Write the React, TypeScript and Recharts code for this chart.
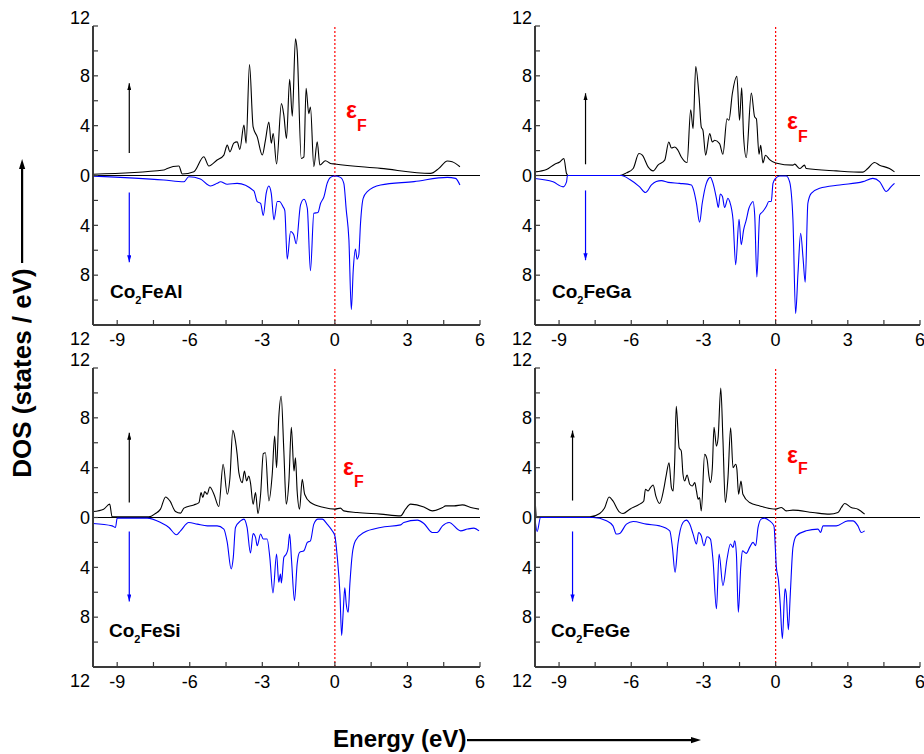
import { LineChart, Line, XAxis, YAxis, ReferenceLine } from "recharts"

// DOS curves as [energy (eV), states/eV]; spin-down values stored as magnitudes
const alUp = [[-10,0.1],[-7.07,0.44],[-6.93,0.57],[-6.45,0.76],[-6.31,0.12],[-5.83,0.3],[-5.42,1.5],[-5.21,0.76],[-4.87,1.24],[-4.59,1.64],[-4.45,2.44],[-4.34,1.9],[-4.18,2.6],[-4.04,2.7],[-3.93,2.1],[-3.76,4.04],[-3.67,2.6],[-3.53,8.9],[-3.38,3.9],[-3.21,3.1],[-3.0,1.64],[-2.87,2.84],[-2.73,4.3],[-2.63,2.6],[-2.55,3.37],[-2.41,0.92],[-2.21,5.77],[-2.11,4.84],[-2.0,2.97],[-1.87,7.72],[-1.76,4.76],[-1.63,10.97],[-1.56,10.04],[-1.39,1.37],[-1.28,1.5],[-1.19,7.0],[-1.08,4.97],[-1.01,5.5],[-0.87,0.71],[-0.73,2.7],[-0.62,0.84],[-0.39,1.19],[-0.18,0.97],[0,0.92],[1.89,0.57],[3.96,0.17],[4.3,0.57],[4.65,1.16],[4.85,1.1],[5.17,0.7]]
const alDown = [[-10,0.05],[-7.07,0.36],[-6.24,0.5],[-6.04,0.1],[-5.56,0.28],[-5.14,0.84],[-4.87,0.63],[-4.73,0.5],[-4.45,0.7],[-4.04,0.63],[-3.35,1.24],[-3.21,2.09],[-3.07,2.23],[-2.96,3.21],[-2.84,1.43],[-2.73,0.84],[-2.63,1.43],[-2.52,3.56],[-2.38,2.09],[-2.29,2.09],[-2.15,2.49],[-2.07,2.81],[-1.97,6.71],[-1.83,4.49],[-1.7,4.76],[-1.6,5.48],[-1.42,2.36],[-1.28,1.91],[-1.14,2.63],[-1.01,7.64],[-0.87,3.03],[-0.7,2.97],[-0.59,2.23],[-0.45,1.69],[-0.32,0.63],[-0.18,0.15],[0,0.04],[0.23,0.15],[0.37,0.63],[0.47,2.76],[0.58,5.16],[0.68,10.76],[0.76,7.56],[0.85,5.91],[0.92,6.71],[0.99,6.36],[1.06,3.83],[1.17,1.83],[1.34,1.29],[1.89,0.76],[3.27,0.49],[4.65,0.15],[4.99,0.23],[5.17,0.76]]

const gaUp = [[-10,0.29],[-9.52,0.48],[-9.18,0.91],[-8.97,1.09],[-8.8,1.36],[-8.69,0.16],[-8.62,0],[-6.48,0],[-6.2,0.21],[-5.92,0.56],[-5.68,1.76],[-5.54,1.63],[-5.3,0.69],[-5.09,0.37],[-4.89,0.83],[-4.61,1.23],[-4.44,2.69],[-4.33,2.21],[-4.19,2.29],[-4.06,2.03],[-3.92,1.49],[-3.68,1.04],[-3.53,5.28],[-3.43,3.76],[-3.32,8.75],[-3.18,6.29],[-3.09,3.89],[-3.02,3.63],[-2.91,1.63],[-2.74,3.36],[-2.63,2.69],[-2.53,2.83],[-2.33,2.56],[-2.19,1.71],[-2.02,4.56],[-1.94,4.43],[-1.8,6.56],[-1.61,7.97],[-1.5,4.43],[-1.41,7.04],[-1.33,3.09],[-1.22,1.44],[-1.01,6.61],[-0.87,4.69],[-0.8,4.56],[-0.69,1.71],[-0.62,2.43],[-0.53,1.01],[-0.42,1.63],[-0.25,1.28],[0,1.01],[0.72,0.83],[0.79,0.91],[1.0,0.56],[1.2,0.83],[1.27,0.56],[2.52,0.37],[3.63,0.27],[3.83,0.56],[4.11,1.04],[4.32,0.83],[4.73,0.56],[4.94,0.29]]
const gaDown = [[-10,0.24],[-9.25,0.51],[-8.83,0.91],[-8.69,0.51],[-8.65,0],[-6.41,0],[-6.06,0.32],[-5.65,0.91],[-5.41,1.37],[-5.16,0.76],[-4.96,0.49],[-4.75,0.41],[-4.47,0.55],[-3.99,0.63],[-3.5,0.76],[-3.41,1.16],[-3.29,2.23],[-3.16,3.75],[-3.05,2.23],[-2.88,0.63],[-2.71,0.15],[-2.6,0.63],[-2.46,1.83],[-2.38,2.57],[-2.3,1.48],[-2.21,1.69],[-2.12,2.57],[-1.98,1.83],[-1.91,2.09],[-1.77,3.56],[-1.66,7.16],[-1.52,3.51],[-1.43,5.56],[-1.33,4.36],[-1.22,3.56],[-1.11,2.63],[-1.01,2.23],[-0.94,2.09],[-0.87,3.16],[-0.78,8.15],[-0.66,3.16],[-0.53,2.89],[-0.39,2.49],[-0.28,2.09],[-0.18,2.09],[-0.11,0.63],[0,0.23],[0.17,0.04],[0.44,0.04],[0.58,0.49],[0.72,3.56],[0.83,11.08],[0.93,7.83],[1.04,4.63],[1.14,6.63],[1.23,8.57],[1.34,2.23],[1.48,1.43],[1.83,1.03],[2.66,0.76],[3.63,0.49],[4.04,0.23],[4.32,0.49],[4.6,1.29],[4.8,0.89],[4.94,0.63]]

const siUp = [[-10,0.48],[-9.56,0.67],[-9.31,1.07],[-9.21,0.05],[-7.69,0.05],[-7.42,0.32],[-7.21,0.67],[-7.0,1.65],[-6.82,1.33],[-6.59,0.48],[-6.38,0.35],[-6.24,0.75],[-5.83,1.01],[-5.62,1.2],[-5.53,2.0],[-5.46,1.6],[-5.38,2.08],[-5.28,1.87],[-5.17,2.45],[-5.0,1.87],[-4.8,0.88],[-4.62,4.27],[-4.45,1.87],[-4.34,3.15],[-4.22,6.99],[-4.11,6.13],[-4.04,5.07],[-3.97,3.6],[-3.83,2.8],[-3.74,3.73],[-3.65,2.93],[-3.56,3.33],[-3.49,2.8],[-3.38,1.07],[-3.28,2.0],[-3.18,0.32],[-3.07,1.87],[-2.96,5.12],[-2.87,5.2],[-2.73,1.33],[-2.59,3.47],[-2.49,6.53],[-2.41,4.0],[-2.32,8.0],[-2.22,9.73],[-2.11,5.33],[-2.01,1.07],[-1.9,2.93],[-1.8,7.25],[-1.69,3.73],[-1.63,4.8],[-1.56,2.13],[-1.46,0.67],[-1.35,3.07],[-1.25,1.87],[-1.01,1.2],[-0.45,0.8],[0,0.67],[0.23,0.75],[0.37,0.53],[0.92,0.4],[1.89,0.27],[2.72,0.13],[2.92,0.67],[3.13,1.07],[3.68,0.85],[4.03,0.53],[4.45,0.8],[4.58,0.93],[4.93,0.93],[5.27,1.01],[5.62,0.8],[5.96,0.67]]
const siDown = [[-10,0.48],[-9.21,0.67],[-9.07,0.8],[-9.0,0.05],[-7.76,0.05],[-7.21,0.4],[-6.86,0.8],[-6.55,1.39],[-6.38,1.07],[-6.04,0.4],[-5.69,0.53],[-5.27,0.67],[-4.87,0.67],[-4.59,0.93],[-4.45,2.0],[-4.29,4.13],[-4.2,3.2],[-4.11,0.8],[-3.9,0.27],[-3.76,0.13],[-3.63,0.8],[-3.49,2.85],[-3.38,1.28],[-3.28,1.6],[-3.21,2.27],[-3.07,1.33],[-2.96,1.73],[-2.8,1.73],[-2.69,3.2],[-2.56,6.05],[-2.41,2.93],[-2.32,5.2],[-2.25,4.53],[-2.21,5.25],[-2.11,3.2],[-2.01,2.93],[-1.94,2.53],[-1.87,1.33],[-1.79,3.47],[-1.67,6.67],[-1.56,3.73],[-1.46,2.8],[-1.28,2.67],[-1.14,2.0],[-1.01,1.87],[-0.87,0.53],[-0.7,0.13],[-0.52,0.13],[-0.32,0.53],[-0.11,1.07],[0,1.47],[0.1,3.2],[0.21,6.13],[0.28,9.47],[0.34,7.73],[0.41,5.65],[0.47,6.93],[0.55,7.6],[0.62,5.33],[0.72,2.93],[0.85,1.87],[1.2,1.2],[1.89,0.8],[2.72,0.59],[2.85,0.4],[3.41,0.21],[3.68,0.48],[4.03,1.2],[4.23,1.2],[4.45,0.67],[4.72,0.4],[5.2,1.07],[5.48,0.93],[5.75,0.85],[5.96,1.07]]

const geUp = [[-10,1.6],[-9.93,0.05],[-7.72,0.05],[-7.31,0.32],[-7.1,0.8],[-6.92,1.65],[-6.76,1.33],[-6.51,0.48],[-6.34,0.32],[-6.06,0.67],[-5.65,1.07],[-5.48,1.33],[-5.41,2.27],[-5.3,2.13],[-5.2,2.4],[-5.09,2.61],[-4.98,1.73],[-4.82,1.12],[-4.65,2.27],[-4.54,3.47],[-4.43,4.4],[-4.33,2.4],[-4.26,2.13],[-4.19,4.8],[-4.13,8.93],[-4.01,5.6],[-3.92,5.33],[-3.85,3.47],[-3.78,2.93],[-3.68,3.41],[-3.57,2.67],[-3.46,2.53],[-3.36,2.8],[-3.29,2.13],[-3.22,1.47],[-3.16,1.6],[-3.09,0.53],[-2.95,5.07],[-2.85,4.67],[-2.77,3.33],[-2.71,2.8],[-2.63,4.0],[-2.56,7.25],[-2.46,5.73],[-2.39,6.4],[-2.28,10.4],[-2.19,6.27],[-2.09,1.2],[-1.98,3.2],[-1.87,7.2],[-1.77,4.0],[-1.66,4.27],[-1.61,3.87],[-1.54,1.87],[-1.44,2.93],[-1.36,1.87],[-1.08,1.2],[-0.66,0.93],[0,0.67],[0.24,0.8],[0.44,0.53],[0.72,0.59],[1.55,0.4],[2.24,0.27],[2.59,0.4],[2.73,0.8],[2.87,1.12],[3.14,0.8],[3.42,0.67],[3.7,0.27]]
const geDown = [[-10,0.13],[-9.91,1.12],[-9.77,0],[-7.59,0],[-7.03,0.27],[-6.76,0.67],[-6.62,1.33],[-6.48,1.28],[-6.2,0.53],[-5.92,0.32],[-5.37,0.53],[-4.82,0.67],[-4.4,1.07],[-4.29,2.4],[-4.18,4.4],[-4.06,2.13],[-3.85,0.4],[-3.71,0.21],[-3.57,0.53],[-3.43,1.33],[-3.29,2.13],[-3.2,1.2],[-3.09,1.47],[-2.98,2.27],[-2.85,1.55],[-2.71,1.73],[-2.6,3.47],[-2.46,7.33],[-2.35,2.93],[-2.19,5.47],[-2.02,3.33],[-1.88,2.13],[-1.77,2.4],[-1.7,1.87],[-1.63,2.93],[-1.55,7.6],[-1.45,4.0],[-1.38,2.67],[-1.22,2.88],[-1.08,2.4],[-0.94,2.0],[-0.83,2.27],[-0.73,0.8],[-0.6,0.13],[-0.46,0.05],[-0.25,0.27],[-0.07,0.67],[0.03,4.0],[0.12,5.07],[0.19,6.93],[0.28,9.73],[0.39,5.73],[0.44,6.13],[0.53,9.01],[0.61,6.13],[0.72,2.4],[0.86,1.47],[1.27,1.07],[1.76,0.93],[1.87,1.2],[1.97,0.67],[2.52,0.67],[3.0,0.27],[3.21,0.27],[3.42,0.67],[3.56,1.2],[3.7,1.07]]

const energyTicks = [-9, -7.5, -6, -4.5, -3, -1.5, 0, 1.5, 3, 4.5, 6]
const dosTicks = [-12, -10, -8, -6, -4, -2, 0, 2, 4, 6, 8, 10, 12]

const FONT = "'Liberation Sans', Arial, Helvetica, sans-serif"
const FRAME = "#3a3a3a"
const TOP_PAD = 25
const Y_AXIS_W = 60

const toPoints = (rows: number[][], sign: number) => rows.map(([e, v]) => ({ e, v: sign * v }))

type PanelProps = {
  left: number
  top: number
  width: number
  height: number
  up: number[][]
  down: number[][]
  arrowX: number
  upArrow: [number, number]
  downArrow: [number, number]
}

function Arrow(props: any, marker: string, color: string) {
  const { x1, y1, x2, y2 } = props
  return <line x1={x1} y1={y1} x2={x2} y2={y2} stroke={color} strokeWidth={1.2} markerEnd={`url(#${marker})`} />
}

function Panel({ left, top, width, height, up, down, arrowX, upArrow, downArrow }: PanelProps) {
  const chartW = Y_AXIS_W + width + 10
  const chartH = TOP_PAD + height + 30
  const bottomY = TOP_PAD + height

  const energyLabel = (p: any) => {
    const v = p.payload.value
    if (v % 3 !== 0) return <g />
    return (
      <text x={p.x} y={bottomY + 15} dy="0.35em" textAnchor="middle" fontSize={18} fontFamily={FONT} fill="#000">
        {v}
      </text>
    )
  }
  const dosLabel = (p: any) => {
    const v = p.payload.value
    if (v % 4 !== 0) return <g />
    const shift = v === 12 ? -8 : v === -12 ? 14 : 0
    return (
      <text x={Y_AXIS_W - 3} y={p.y + shift} dy="0.35em" textAnchor="end" fontSize={18} fontFamily={FONT} fill="#000">
        {Math.abs(v)}
      </text>
    )
  }

  const frame = { stroke: FRAME, strokeWidth: 2 }
  const tickStyle = { stroke: FRAME, strokeWidth: 1.2 }

  return (
    <div style={{ position: "absolute", left: left - Y_AXIS_W, top: top - TOP_PAD }}>
      <LineChart width={chartW} height={chartH} margin={{ top: TOP_PAD, right: 10, bottom: 0, left: 0 }}>
        <XAxis xAxisId="b" type="number" dataKey="e" domain={[-10, 6]} ticks={energyTicks} allowDataOverflow stroke={FRAME}
          height={30} tickSize={-5} tickMargin={0} tick={energyLabel} axisLine={frame} tickLine={tickStyle} />
        <XAxis xAxisId="t" orientation="top" type="number" dataKey="e" domain={[-10, 6]} ticks={energyTicks} allowDataOverflow stroke={FRAME}
          height={0} tickSize={-5} tick={false} axisLine={frame} tickLine={tickStyle} />
        <YAxis yAxisId="l" type="number" domain={[-12, 12]} ticks={dosTicks} allowDataOverflow stroke={FRAME}
          width={Y_AXIS_W} tickSize={-5} tickMargin={0} tick={dosLabel} axisLine={frame} tickLine={tickStyle} />
        <YAxis yAxisId="r" orientation="right" type="number" domain={[-12, 12]} ticks={dosTicks} allowDataOverflow stroke={FRAME}
          width={0} tickSize={-5} tick={false} axisLine={frame} tickLine={tickStyle} />

        <ReferenceLine xAxisId="b" yAxisId="l" y={0} stroke="#000" strokeWidth={1} />
        <ReferenceLine xAxisId="b" yAxisId="l" x={0} stroke="#ff0000" strokeWidth={1.2} strokeDasharray="2 2" />

        <Line xAxisId="b" yAxisId="l" data={toPoints(up, 1)} dataKey="v" type="monotone" dot={false}
          stroke="#000" strokeWidth={1.1} isAnimationActive={false} />
        <Line xAxisId="b" yAxisId="l" data={toPoints(down, -1)} dataKey="v" type="monotone" dot={false}
          stroke="#0000ff" strokeWidth={1.1} isAnimationActive={false} />

        <ReferenceLine xAxisId="b" yAxisId="l"
          segment={[{ x: arrowX, y: upArrow[0] }, { x: arrowX, y: upArrow[1] }]}
          shape={(p: any) => Arrow(p, "headBlack", "#000")} />
        <ReferenceLine xAxisId="b" yAxisId="l"
          segment={[{ x: arrowX, y: -downArrow[0] }, { x: arrowX, y: -downArrow[1] }]}
          shape={(p: any) => Arrow(p, "headBlue", "#0000ff")} />
      </LineChart>
    </div>
  )
}

function Compound({ x, y, tail }: { x: number; y: number; tail: string }) {
  return (
    <text x={x} y={y} fontSize={19} fontWeight="bold" fontFamily={FONT} fill="#000">
      Co<tspan dy={6} fontSize={11}>2</tspan><tspan dy={-6}>{tail}</tspan>
    </text>
  )
}

function Fermi({ x, y, dy }: { x: number; y: number; dy: number }) {
  return (
    <text x={x} y={y} fontSize={23} fontWeight="bold" fontFamily={FONT} fill="#ff0000">
      ε<tspan dy={dy} fontSize={16}>F</tspan>
    </text>
  )
}

export default function App() {
  return (
    <div style={{ position: "absolute", left: 0, top: 0, width: 924, height: 754, background: "#fff", fontFamily: FONT }}>
      <svg width={0} height={0} style={{ position: "absolute" }}>
        <defs>
          <marker id="headBlack" viewBox="0 0 10 6" refX={10} refY={3} markerWidth={7} markerHeight={4.2} orient="auto" markerUnits="userSpaceOnUse">
            <path d="M0,0 L10,3 L0,6 z" fill="#000" />
          </marker>
          <marker id="headBlue" viewBox="0 0 10 6" refX={10} refY={3} markerWidth={7} markerHeight={4.2} orient="auto" markerUnits="userSpaceOnUse">
            <path d="M0,0 L10,3 L0,6 z" fill="#0000ff" />
          </marker>
        </defs>
      </svg>

      <Panel left={92.5} top={25.5} width={387} height={299} up={alUp} down={alDown}
        arrowX={-8.5} upArrow={[1.8, 7.4]} downArrow={[1.36, 6.96]} />
      <Panel left={535.2} top={25.5} width={385} height={299} up={gaUp} down={gaDown}
        arrowX={-7.9} upArrow={[0.9, 6.6]} downArrow={[1.2, 6.8]} />
      <Panel left={92.5} top={367.5} width={387} height={299} up={siUp} down={siDown}
        arrowX={-8.5} upArrow={[1.2, 6.8]} downArrow={[1.12, 6.74]} />
      <Panel left={535.2} top={367.5} width={385} height={299} up={geUp} down={geDown}
        arrowX={-8.44} upArrow={[1.36, 6.98]} downArrow={[1.12, 6.74]} />

      <svg width={924} height={754} style={{ position: "absolute", left: 0, top: 0, pointerEvents: "none" }}>
        <Fermi x={346} y={118} dy={13} />
        <Fermi x={787} y={129} dy={13} />
        <Fermi x={343} y={475} dy={12} />
        <Fermi x={787} y={463} dy={11} />

        <Compound x={110} y={298} tail="FeAl" />
        <Compound x={552} y={298} tail="FeGa" />
        <Compound x={109} y={637} tail="FeSi" />
        <Compound x={551} y={637} tail="FeGe" />

        <text transform="translate(31,373) rotate(-90)" textAnchor="middle" fontSize={26} fontWeight="bold" fontFamily={FONT} fill="#000">
          DOS (states / eV)
        </text>
        <rect x={21} y={167} width={2.2} height={96} fill="#000" />
        <path d="M22.1 159 L19 169 L25.2 169 Z" fill="#000" />

        <text x={333} y={747} fontSize={24} fontWeight="bold" fontFamily={FONT} fill="#000">
          Energy (eV)
        </text>
        <rect x={467} y={739} width={226} height={2.2} fill="#000" />
        <path d="M701 740.1 L691 737 L691 743.2 Z" fill="#000" />
      </svg>
    </div>
  )
}
